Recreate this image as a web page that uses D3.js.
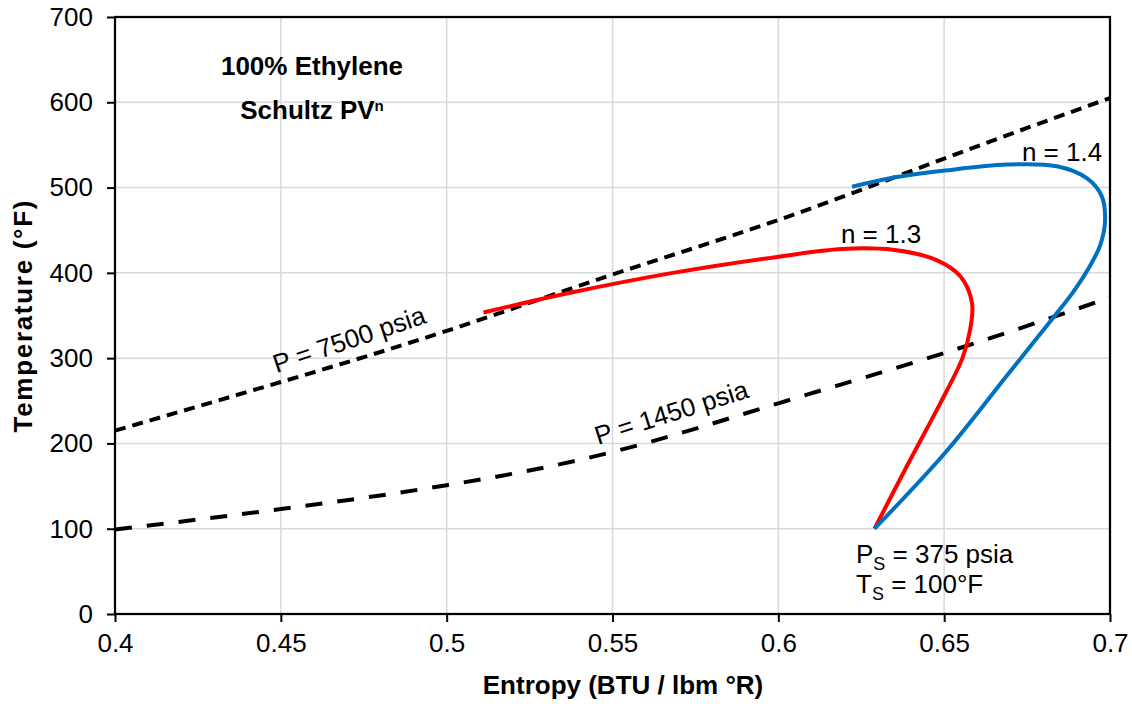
<!DOCTYPE html>
<html>
<head>
<meta charset="utf-8">
<script src="https://cdn.jsdelivr.net/npm/d3@7"></script>
<style>
  body { margin: 0; background: #fff; }
  svg text { font-family: "Liberation Sans", Arial, sans-serif; fill: #000; }
</style>
</head>
<body>
<div id="chart"></div>
<script>
// isobar data (entropy vs temperature)
const isoS = [0.4, 0.45, 0.5, 0.55, 0.6, 0.65, 0.7];
const p7500T = [215, 272, 332, 398, 462, 534, 605];
const p1450T = [99, 123, 151, 190, 247, 306, 371];

// compression paths, Schultz PV^n
const n13S = [0.5111, 0.5376, 0.5682, 0.6001, 0.6192, 0.6345, 0.6477, 0.6549, 0.6584, 0.6578, 0.6555, 0.6488, 0.6387, 0.629];
const n13T = [353.6, 377, 400, 419, 428, 427, 415, 396, 364.6, 333, 300, 247, 173, 100];
const n14S = [0.6222, 0.6337, 0.6503, 0.6689, 0.684, 0.693, 0.6975, 0.6985, 0.697, 0.6935, 0.689, 0.683, 0.669, 0.6505, 0.629];
const n14T = [501, 511, 520, 527, 525, 511, 490, 460, 432, 405, 378, 348, 280, 190, 100];

const xTicks = [0.4, 0.45, 0.5, 0.55, 0.6, 0.65, 0.7];
const yTicks = [0, 100, 200, 300, 400, 500, 600, 700];

const size = { width: 1132, height: 704 };
const margin = { left: 115, right: 22, top: 17, bottom: 90 };

const svg = d3.select("#chart").append("svg")
  .attr("width", size.width)
  .attr("height", size.height);

const x = d3.scaleLinear([0.4, 0.7], [margin.left, size.width - margin.right]);
const y = d3.scaleLinear([0, 700], [size.height - margin.bottom, margin.top]);

// Grid
svg.append("g")
  .attr("stroke", "#d9d9d9")
  .attr("stroke-width", 1.5)
  .call(g => g.selectAll("line.v").data(xTicks.slice(1, -1)).join("line")
    .attr("x1", d => x(d)).attr("x2", d => x(d))
    .attr("y1", y(0)).attr("y2", y(700)))
  .call(g => g.selectAll("line.h").data(yTicks.slice(1, -1)).join("line")
    .attr("class", "h")
    .attr("x1", x(0.4)).attr("x2", x(0.7))
    .attr("y1", d => y(d)).attr("y2", d => y(d)));

// Axes
const xAxis = svg.append("g")
  .attr("transform", `translate(0,${y(0)})`)
  .call(d3.axisBottom(x).tickValues(xTicks).tickFormat(d3.format("")).tickSize(8).tickPadding(12));
const yAxis = svg.append("g")
  .attr("transform", `translate(${x(0.4)},0)`)
  .call(d3.axisLeft(y).tickValues(yTicks).tickSize(8).tickPadding(14));

[xAxis, yAxis].forEach(g => {
  g.select(".domain").remove();
  g.selectAll("line").attr("stroke", "#000").attr("stroke-width", 2);
  g.selectAll("text").style("font-size", "26px");
});
xAxis.selectAll("text").attr("dy", "0.71em");

// frame
svg.append("rect")
  .attr("x", x(0.4)).attr("y", y(700))
  .attr("width", x(0.7) - x(0.4)).attr("height", y(0) - y(700))
  .attr("fill", "none").attr("stroke", "#000").attr("stroke-width", 2.25);

// Lines
const isoLine = d3.line().x((d, i) => x(isoS[i])).y(d => y(d)).curve(d3.curveNatural);

svg.append("path")
  .attr("d", isoLine(p7500T))
  .attr("fill", "none").attr("stroke", "#000")
  .attr("stroke-width", 4).attr("stroke-dasharray", "11,7");

svg.append("path")
  .attr("d", isoLine(p1450T))
  .attr("fill", "none").attr("stroke", "#000")
  .attr("stroke-width", 4).attr("stroke-dasharray", "17,15");

const pathLine = d3.line().x(d => x(d[0])).y(d => y(d[1])).curve(d3.curveCatmullRom.alpha(0.5));

svg.append("path")
  .attr("d", pathLine(d3.zip(n13S, n13T)))
  .attr("fill", "none").attr("stroke", "#ff0000").attr("stroke-width", 4);

svg.append("path")
  .attr("d", pathLine(d3.zip(n14S, n14T)))
  .attr("fill", "none").attr("stroke", "#0070c0").attr("stroke-width", 4);

// Labels
const fs = "26px";
svg.append("text").attr("x", 312).attr("y", 75)
  .attr("text-anchor", "middle").style("font-size", fs).style("font-weight", "bold")
  .text("100% Ethylene");
const sch = svg.append("text").attr("x", 312).attr("y", 119)
  .attr("text-anchor", "middle").style("font-size", fs).style("font-weight", "bold");
sch.append("tspan").text("Schultz PV");
sch.append("tspan").attr("dy", -8).style("font-size", "15px").text("n");

svg.append("text").attr("x", 1062).attr("y", 161)
  .attr("text-anchor", "middle").style("font-size", fs).text("n = 1.4");
svg.append("text").attr("x", 881).attr("y", 243)
  .attr("text-anchor", "middle").style("font-size", fs).text("n = 1.3");

svg.append("text")
  .attr("transform", "translate(352,348) rotate(-18.5)")
  .attr("text-anchor", "middle").style("font-size", fs).text("P = 7500 psia");
svg.append("text")
  .attr("transform", "translate(674,421) rotate(-17.5)")
  .attr("text-anchor", "middle").style("font-size", fs).text("P = 1450 psia");

const ps = svg.append("text").attr("x", 856).attr("y", 563).style("font-size", fs);
ps.append("tspan").text("P");
ps.append("tspan").attr("dy", 7).style("font-size", "18px").text("S");
ps.append("tspan").attr("dy", -7).text(" = 375 psia");
const ts = svg.append("text").attr("x", 856).attr("y", 593).style("font-size", fs);
ts.append("tspan").text("T");
ts.append("tspan").attr("dy", 7).style("font-size", "18px").text("S");
ts.append("tspan").attr("dy", -7).text(" = 100°F");

// Axis titles
svg.append("text")
  .attr("x", 623).attr("y", 694)
  .attr("text-anchor", "middle").style("font-size", fs).style("font-weight", "bold")
  .text("Entropy (BTU / lbm °R)");
svg.append("text")
  .attr("transform", "translate(32,316.5) rotate(-90)")
  .attr("text-anchor", "middle").style("font-size", fs).style("font-weight", "bold")
  .attr("textLength", 232).attr("lengthAdjust", "spacing")
  .text("Temperature (°F)");
</script>
</body>
</html>
